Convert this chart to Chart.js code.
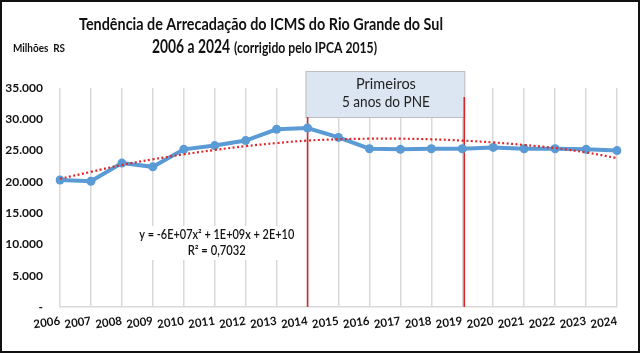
<!DOCTYPE html>
<html><head><meta charset="utf-8">
<script src="https://cdn.jsdelivr.net/npm/chart.js@4.4.1/dist/chart.umd.min.js"></script>
<style>html,body{margin:0;padding:0;background:#fff;overflow:hidden}</style>
</head><body><canvas id="c" width="640" height="353"></canvas>
<script>
const years = ['2006','2007','2008','2009','2010','2011','2012','2013','2014','2015','2016','2017','2018','2019','2020','2021','2022','2023','2024'];
const icms = [20300,20100,23000,22400,25200,25800,26600,28400,28600,27100,25300,25200,25300,25300,25500,25300,25300,25200,25000];
const trend = [20500,21600,22700,23600,24400,25100,25700,26200,26600,26800,26900,26900,26800,26600,26300,25900,25400,24700,23800];
const yMin = 0, yMax = 35000, yStep = 5000;
const titleLine1 = 'Tendência de Arrecadação do ICMS do Rio Grande do Sul';
const titleLine2a = '2006 a 2024';
const titleLine2b = '(corrigido pelo IPCA 2015)';
const unitLabel = 'Milhões  RS';
const boxLines = ['Primeiros', '5 anos do PNE'];
const eqLines = ['y = -6E+07x² + 1E+09x + 2E+10', 'R² = 0,7032'];
const markStart = '2014', markEnd = '2019', eqAnchor = '2011';

const FN = "Lato, 'Liberation Sans', sans-serif";

function fmt(v){ if(v===0) return '-'; return String(v).replace(/\B(?=(\d{3})+(?!\d))/g,'.'); }
// draw text at a given font size, condensed horizontally to a target width (Calibri-like proportions)
function drawFit(c, text, x, y, weight, size, targetW){
  c.font = weight + " " + size + "px " + FN;
  const k = targetW / c.measureText(text).width;
  c.save(); c.translate(x, y); c.scale(k, 1); c.textAlign = 'left'; c.fillText(text, 0, 0); c.restore();
}

const deco = {
  id:'deco',
  beforeDraw(chart){
    const c = chart.ctx; c.save(); c.fillStyle='#fff'; c.fillRect(0,0,chart.width,chart.height); c.restore();
  },
  beforeDatasetsDraw(chart){
    const c = chart.ctx, a = chart.chartArea, xs = chart.scales.x;
    const x1 = xs.getPixelForValue(years.indexOf(markStart));
    const x2 = xs.getPixelForValue(years.indexOf(markEnd)) + 2;
    const bt = a.top - 17, bb = a.top + 29;
    c.save();
    c.fillStyle = '#dce6f2'; c.strokeStyle = '#bfbfbf'; c.lineWidth = 1;
    c.fillRect(x1-2, bt, x2-x1+3, bb-bt); c.strokeRect(x1-2+0.5, bt+0.5, x2-x1+2, bb-bt);
    c.fillStyle = '#222';
    const cx = (x1+x2)/2;
    drawFit(c, boxLines[0], cx - 30, bt+18, 'normal', 15, 60);
    drawFit(c, boxLines[1], cx - 44, bt+36, 'normal', 15, 88);
    c.strokeStyle = '#d9262b'; c.lineWidth = 1.6;
    c.beginPath(); c.moveTo(x1, bb); c.lineTo(x1, a.bottom); c.stroke();
    c.beginPath(); c.moveTo(x2, a.top+9); c.lineTo(x2, a.bottom); c.stroke();
    const ex = xs.getPixelForValue(years.indexOf(eqAnchor)) + 2;
    c.fillStyle = '#fff'; c.fillRect(ex - 81, 226, 162, 34);
    c.fillStyle = '#111';
    drawFit(c, eqLines[0], ex - 77.5, 239, '600', 12.5, 155);
    drawFit(c, eqLines[1], ex - 29, 255, '600', 12.5, 58);
    c.restore();
  },
  afterDraw(chart){
    const c = chart.ctx;
    c.save();
    c.fillStyle = '#111';
    drawFit(c, titleLine1, 79, 30, 'bold', 17.5, 364);
    drawFit(c, titleLine2a, 152, 53, 'bold', 19, 78);
    drawFit(c, titleLine2b, 234, 53, 'bold', 14.5, 143);
    drawFit(c, unitLabel, 13, 52, 'bold', 11, 52);
    c.strokeStyle = '#111'; c.lineWidth = 2;
    c.strokeRect(1, 1, chart.width-2, chart.height-2);
    c.restore();
  }
};

new Chart(document.getElementById('c'), {
  type:'line',
  data:{ labels: years, datasets:[
    { label:'Tendência', data: trend, borderColor:'#e0282b', borderWidth:2.2, borderDash:[2,2.5], pointRadius:0, tension:0.4, fill:false },
    { label:'ICMS', data: icms, borderColor:'#5b9bd5', backgroundColor:'#5b9bd5', borderWidth:4, pointRadius:4.5, pointHoverRadius:4.5, pointBackgroundColor:'#5b9bd5', pointBorderWidth:0, tension:0, fill:false }
  ]},
  plugins:[deco],
  options:{
    responsive:false, devicePixelRatio:1, animation:false,
    layout:{ padding:{ left:3, right:23, top:88, bottom:16 } },
    plugins:{ legend:{display:false}, title:{display:false}, tooltip:{enabled:false} },
    scales:{
      x:{ type:'category', offset:false,
          grid:{ color:'#d9d9d9', lineWidth:1.5, drawTicks:false },
          border:{ color:'#d9d9d9', width:1.5 },
          ticks:{ minRotation:8, maxRotation:8, autoSkip:false, padding:7, color:'#111', font:{ family:FN, size:11.5, weight:'bold' } },
          afterFit(s){ s.height = 30; } },
      y:{ min:yMin, max:yMax,
          grid:{ display:false, drawTicks:false },
          border:{ display:false },
          ticks:{ stepSize:yStep, padding:17, color:'#111', callback:(v)=>fmt(v), font:{ family:FN, size:12, weight:'bold' } },
          afterFit(s){ s.width = 57; } }
    }
  }
});
</script></body></html>
